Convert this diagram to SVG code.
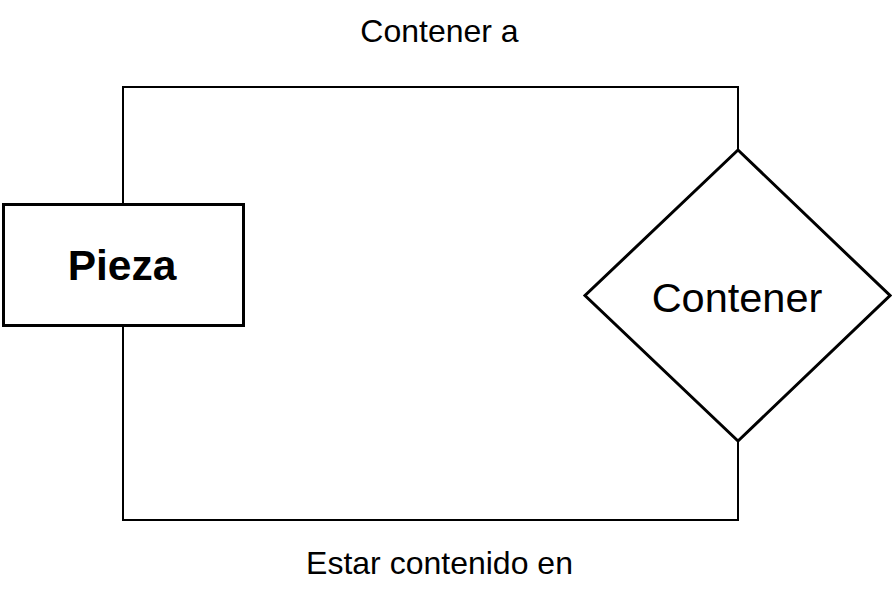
<svg xmlns="http://www.w3.org/2000/svg" width="892" height="596" viewBox="0 0 892 596">
<style>
text{font-family:"Liberation Sans",Arial,sans-serif;fill:#000;text-anchor:middle}
.lbl{font-size:32px}
.edge{fill:none;stroke:#000;stroke-width:2}
.node{fill:#fff;stroke:#000;stroke-width:3}
</style>
<rect width="892" height="596" fill="#fff"/>
<g id="connectors">
<polyline class="edge" points="123,204 123,87 738,87 738,150"/>
<polyline class="edge" points="123,326 123,520 738,520 738,441"/>
<text class="lbl" x="439.5" y="41.5">Contener a</text>
<text class="lbl" x="439.5" y="573.5">Estar contenido en</text>
</g>
<g id="pieza">
<rect class="node" x="3.5" y="204.5" width="240" height="121"/>
<text x="122" y="280" style="font-size:42.5px;font-weight:bold">Pieza</text>
</g>
<g id="contener">
<polygon class="node" points="738,150 890,295.5 738,441 585,295.5"/>
<text x="737" y="311.5" style="font-size:41.5px">Contener</text>
</g>
</svg>
